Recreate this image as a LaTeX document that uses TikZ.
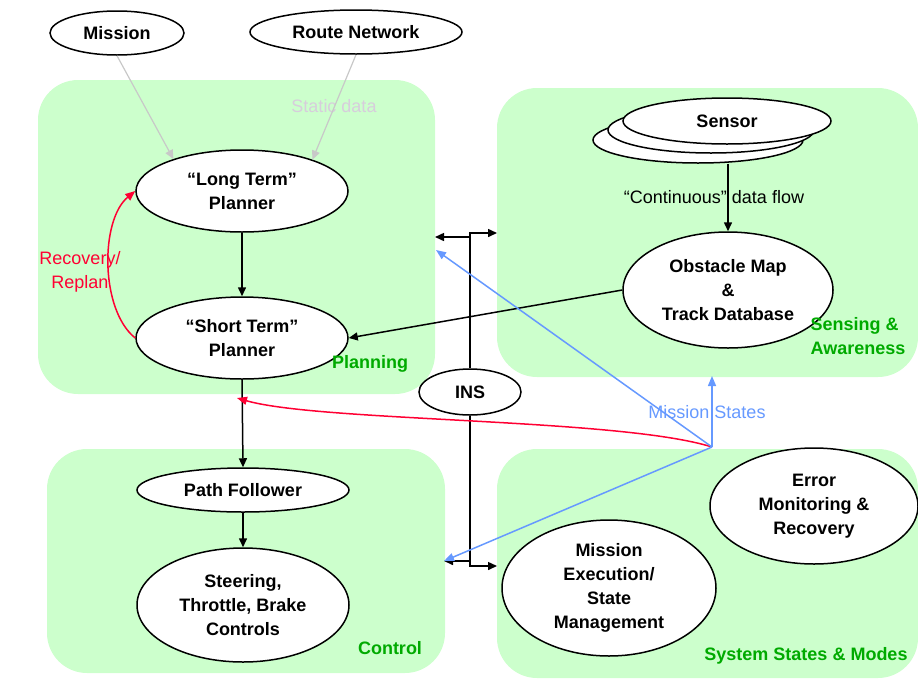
\documentclass[tikz,border=0pt]{standalone}
\usepackage{fontspec}
\setmainfont{Liberation Sans}
\usetikzlibrary{shapes.geometric,arrows.meta}
\definecolor{boxgreen}{RGB}{204,255,204}
\definecolor{lblgreen}{RGB}{0,170,0}
\definecolor{msblue}{RGB}{102,153,255}
\definecolor{recred}{RGB}{255,0,51}
\definecolor{staticgrey}{RGB}{200,200,200}
\definecolor{statictext}{RGB}{215,205,220}
\begin{document}
\begin{tikzpicture}[x=1pt,y=-1pt,
  region/.style={fill=boxgreen, rounded corners=40pt},
  ell/.style={ellipse, draw, line width=1.5pt, fill=white, inner sep=0pt, align=center,
    font=\fontsize{18}{24}\selectfont\bfseries},
  conn/.style={line width=1.5pt, -{Triangle[length=9pt,width=8pt]}},
  greyarrow/.style={line width=1.2pt, draw=staticgrey, -{Triangle[length=9pt,width=8pt]}},
  bluearrow/.style={line width=1.5pt, draw=msblue, -{Triangle[length=10pt,width=8pt]}},
  redarrow/.style={line width=1.5pt, draw=recred, -{Triangle[length=10pt,width=8pt]}},
  lbl/.style={inner sep=0pt, align=center, font=\fontsize{18}{24}\selectfont},
  grnlbl/.style={inner sep=0pt, text=lblgreen, font=\fontsize{18}{24}\selectfont\bfseries}
]
\useasboundingbox (0,0) rectangle (918,678);

% regions
\fill[region] (38,80) rectangle (435,394);
\fill[region] (497,88) rectangle (918,377);
\fill[region] (47,449) rectangle (445,673);
\fill[region] (497,449) rectangle (918,678);

% nodes
\node[ell, minimum width=134pt, minimum height=44pt] (mission) at (117,33) {Mission};
\node[ell, minimum width=212pt, minimum height=44pt] (route) at (356,32) {Route Network};
\node[ell, minimum width=212pt, minimum height=82pt] (long) at (242,191) {“Long Term”\\Planner};
\node[ell, minimum width=212pt, minimum height=82pt] (short) at (242,338) {“Short Term”\\Planner};
\node[ell, minimum width=210pt, minimum height=46pt] (sensor3) at (698,140) {};
\node[ell, minimum width=206pt, minimum height=46pt] (sensor2) at (711,130) {};
\node[ell, minimum width=208pt, minimum height=46pt] (sensor1) at (727,121) {Sensor};
\node[ell, minimum width=210pt, minimum height=116pt] (obst) at (728,290) {Obstacle Map\\\&\\Track Database};
\node[ell, minimum width=102pt, minimum height=46pt] (ins) at (470,392) {INS};
\node[ell, minimum width=212pt, minimum height=44pt] (path) at (243,490) {Path Follower};
\node[ell, minimum width=212pt, minimum height=114pt] (steer) at (243,605) {Steering,\\Throttle, Brake\\Controls};
\node[ell, minimum width=208pt, minimum height=116pt] (error) at (814,506) {Error\\Monitoring \&\\Recovery};
\node[ell, minimum width=214pt, minimum height=136pt] (mexec) at (609,588) {Mission\\Execution/\\State\\Management};

% labels
\node[lbl, text=statictext] (staticlbl) at (334,106) {Static data};
\node[lbl] (contlbl) at (714,197) {“Continuous” data flow};
\node[lbl, text=recred] (reclbl) at (80,272) {Recovery/\\Replan};
\node[lbl, text=msblue] (mslbl) at (707,412) {Mission States};
\node[grnlbl] (planlbl) at (370,364) {Planning};
\node[grnlbl, align=left] (senslbl) at (858,336) {Sensing \&\\Awareness};
\node[grnlbl] (ctrllbl) at (390,648) {Control};
\node[grnlbl] (syslbl) at (806,656) {System States \& Modes};

% coordinates
\coordinate (insTR) at (497,233);
\coordinate (insTLs) at (470,237);
\coordinate (insTL) at (435,237);
\coordinate (insBLs) at (470,561);
\coordinate (insBL) at (444,561);
\coordinate (insBR) at (497,566);
\coordinate (ms) at (712,447);
\coordinate (msUp) at (712,376);
\coordinate (msTL) at (436,250);
\coordinate (msBL) at (444,561);
\coordinate (stb) at (237,398);

% connectors
\draw[greyarrow] (mission.south) -- (long.155);
\draw[greyarrow] (route.south) -- (long.24);
\draw[conn] (long.south) -- (short.north);
\draw[conn] (short.south) -- (path.north);
\draw[conn] (path.south) -- (steer.north);
\draw[conn] (sensor3.south -| obst.north) -- (obst.north);
\draw[conn] (obst.west) -- (short.east);
\draw[redarrow] (short.west) .. controls (100,310) and (100,220) .. (long.west);
\draw[conn] (ins.north) |- (insTR);
\draw[conn] (insTLs) -- (insTL);
\draw[conn] (ins.south) |- (insBR);
\draw[conn] (insBLs) -- (insBL);
\draw[redarrow] (ms) .. controls (620,418) and (320,422) .. (stb);
\draw[bluearrow] (ms) -- (msUp);
\draw[bluearrow] (ms) -- (msTL);
\draw[bluearrow] (ms) -- (msBL);
\end{tikzpicture}
\end{document}
